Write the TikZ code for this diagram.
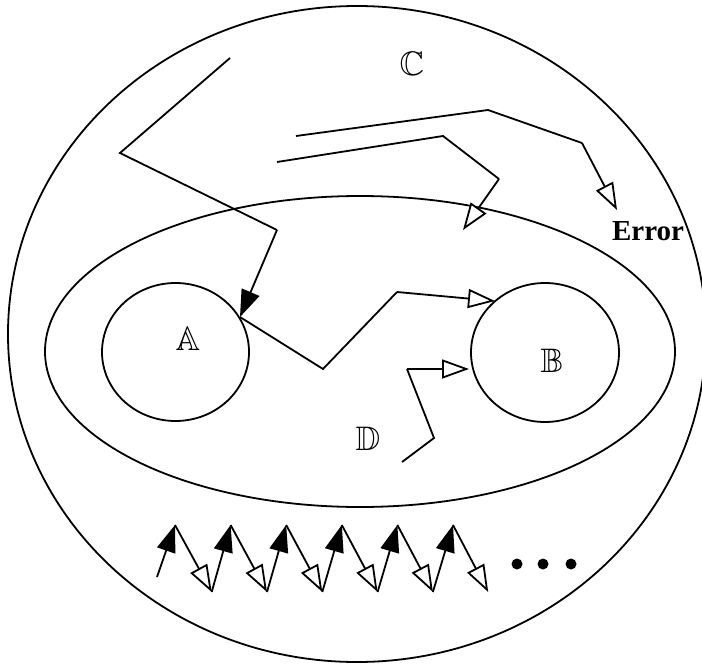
\documentclass[tikz,border=0pt]{standalone}
\usepackage{amssymb}
\usepackage{fontspec}
\newfontfamily\errfont{Liberation Serif}
\usetikzlibrary{arrows.meta}
\tikzset{
  conn/.style={line width=1.8pt, line join=miter},
  fillhead/.style={conn, -{Triangle[length=27pt,width=19pt]}},
  openhead/.style={conn, -{Triangle[open,length=27pt,width=19pt,fill=white]}},
  region/.style={draw, line width=1.8pt},
  lbl/.style={font=\fontsize{34}{36}\selectfont, inner sep=0pt},
  dotmark/.style={fill=black, circle, minimum size=11pt, inner sep=0pt}
}
\begin{document}
\begin{tikzpicture}[x=1pt,y=-1pt]
\useasboundingbox (0,0) rectangle (702,664);
\clip (0,0) rectangle (702,664);
\fill[white] (0,0) rectangle (702,664);
% regions
\draw[region] (357,334) ellipse [x radius=349, y radius=328];
\draw[region] (360,351.5) ellipse [x radius=315, y radius=155.5];
\draw[region] (175.5,352) ellipse [x radius=73.5, y radius=69];
\draw[region] (545,352.5) ellipse [x radius=74, y radius=69.5];
% labels
\node[lbl] (la) at (188,339) {$\mathbb{A}$};
\node[lbl] (lb) at (552,361) {$\mathbb{B}$};
\node[lbl] (lc) at (412,64) {$\mathbb{C}$};
\node[lbl] (ld) at (368,439) {$\mathbb{D}$};
\node[inner sep=0pt, font=\errfont\bfseries\fontsize{29}{30}\selectfont] (err) at (648,231) {Error};
% path 1 into A
\coordinate (p1a) at (230,58);
\coordinate (p1b) at (120,153);
\coordinate (p1c) at (277,230);
\coordinate (aedge) at (240,317);
\draw[conn] (p1a) -- (p1b) -- (p1c);
\draw[fillhead] (p1c) -- (aedge);
% path 2 from A to B
\coordinate (p2b) at (323,369);
\coordinate (p2c) at (397,292);
\coordinate (bedge) at (495,301);
\draw[conn] (aedge) -- (p2b) -- (p2c);
\draw[openhead] (p2c) -- (bedge);
% path 3 (D) into B
\coordinate (p3a) at (402,462);
\coordinate (p3b) at (434,438);
\coordinate (p3c) at (407,369);
\coordinate (bedge2) at (469,369);
\draw[conn] (p3a) -- (p3b) -- (p3c);
\draw[openhead] (p3c) -- (bedge2);
% path 4 to Error
\coordinate (p4a) at (296,136);
\coordinate (p4b) at (488,110);
\coordinate (p4c) at (582,143);
\coordinate (p4d) at (617,210);
\draw[conn] (p4a) -- (p4b) -- (p4c);
\draw[openhead] (p4c) -- (p4d);
% path 5 into inner region
\coordinate (p5a) at (277,162);
\coordinate (p5b) at (443,136);
\coordinate (p5c) at (499,179);
\coordinate (p5d) at (463,230);
\draw[conn] (p5a) -- (p5b) -- (p5c);
\draw[openhead] (p5c) -- (p5d);
% bottom zigzag
\coordinate (z0) at (157,577);
\foreach \i [count=\k from 1] in {0,...,5} {
  \coordinate (t\k) at ({175+55.6*\i},525);
  \coordinate (b\k) at ({211.7+55.3*\i},592);
}
\draw[fillhead] (z0) -- (t1);
\draw[openhead] (t1) -- (b1);
\draw[fillhead] (b1) -- (t2);
\draw[openhead] (t2) -- (b2);
\draw[fillhead] (b2) -- (t3);
\draw[openhead] (t3) -- (b3);
\draw[fillhead] (b3) -- (t4);
\draw[openhead] (t4) -- (b4);
\draw[fillhead] (b4) -- (t5);
\draw[openhead] (t5) -- (b5);
\draw[fillhead] (b5) -- (t6);
\draw[openhead] (t6) -- (b6);
% dots
\node[dotmark] (d1) at (517,564) {};
\node[dotmark] (d2) at (543,564) {};
\node[dotmark] (d3) at (571,564) {};
\end{tikzpicture}
\end{document}
